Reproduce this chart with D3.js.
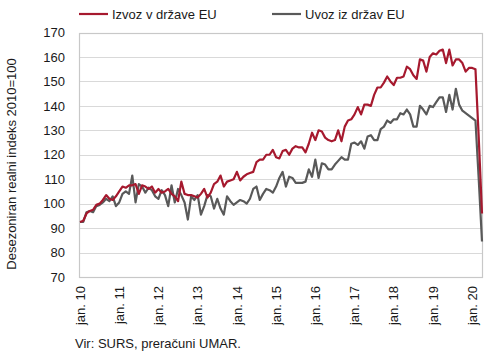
<!DOCTYPE html>
<html><head><meta charset="utf-8">
<script src="https://cdn.jsdelivr.net/npm/d3@7"></script>
<style>
body{margin:0;background:#fff;}
text{font-family:"Liberation Sans",Arial,sans-serif;fill:#1a1a1a;}
</style></head>
<body><svg id="c" width="490" height="355"></svg>
<script>
const seriesNames = ["Izvoz v države EU", "Uvoz iz držav EU"];
const startYear = 2010, startMonth = 0;
const izvoz = [92.5,93,96,97,97.5,99.5,100,101.5,103.5,102,101.5,103,
105,107,106.5,107.5,107.5,108,104,107.5,107,106,107,104.5,
106,104.5,105,106,104,103,101,109,104,103.5,103.5,103,
102.5,104,106,102.5,104.5,108,109,111.5,107,109,109.5,110,
113,109.5,111,112,112.5,113,117,118,118,120,120,122,
119,118.5,121.5,122,120,122.5,123.5,123,123,121,124.5,129,
126,130,129.5,127,126,125.5,126,130,125.5,131.5,134,134.5,
136.5,139.5,136.5,140.5,140.5,140,144.5,147.5,147.5,149.5,152,150,
148.5,151.5,151.5,152,156,155,152.5,151,159,158.5,154,160,
161.5,161,162.5,163,157.5,163,156.5,159,159,157.5,154,155.5,
155.5,155,127,96];
const uvoz = [92.5,92.5,96.5,97,96.5,99,99.5,100.5,102,101,103,99,
100.5,104,105,104,111.5,100.5,108,107,104.5,106.5,105.5,103,
102,105.5,103.5,99,107.5,100.5,106,103.5,100.5,93.5,103,101.5,
103.5,95.5,99,103.5,103,98,102,98,95.5,103,101,99.5,
100.5,101.5,101,100,102,106,107,101.5,104,106,105.5,104.5,
107,110.5,113,107,111,110.5,108.5,108.5,108.5,109,114,111,
118,110.5,116.5,116,114,114,116,117.5,119,118,118,124.5,
125,124,125.5,122.5,127.5,128,126,126,130.5,131.5,134,133,
134.5,134.5,137,136.5,138.5,136.5,131.5,131.5,140,138.5,136.5,140,
139.5,141.5,143.5,143.5,137.5,144.5,138.5,147,140.5,138,137,136,
135,134,110,84.5];
const yTicks = [70,80,90,100,110,120,130,140,150,160,170];
const xTickLabels = ["jan. 10","jan. 11","jan. 12","jan. 13","jan. 14","jan. 15","jan. 16","jan. 17","jan. 18","jan. 19","jan. 20"];
const colors = ["#a6192e","#595959"];

const svg = d3.select("#c");
const L = 80, R = 482, T = 32.5, B = 277;
const months = d3.range(izvoz.length);
const x = d3.scalePoint().domain(months).range([L, R]);
const y = d3.scaleLinear().domain([70,170]).range([B, T]);

// grid
svg.append("g").selectAll("line").data(yTicks).join("line")
  .attr("x1", L).attr("x2", R).attr("y1", d => Math.round(y(d))+0.5).attr("y2", d => Math.round(y(d))+0.5)
  .attr("stroke", "#d9d9d9").attr("stroke-width", 1);
// frame
svg.append("rect").attr("x", L-0.5).attr("y", Math.round(T)+0.5).attr("width", R-L+1).attr("height", Math.round(B)-Math.round(T))
  .attr("fill","none").attr("stroke","#c8c8c8").attr("stroke-width",1.2);

// y axis labels
const yAxis = d3.axisLeft(y).tickValues(yTicks).tickSize(0).tickPadding(15);
const ga = svg.append("g").attr("transform", `translate(${L},0)`).call(yAxis);
ga.select(".domain").remove();
ga.selectAll("text").style("font-size","13px").attr("fill","#1a1a1a").style("font-family","Liberation Sans, Arial, sans-serif");

// x labels
const janIdx = xTickLabels.map((d,i) => i*12);
const xAxis = d3.axisBottom(x).tickValues(janIdx).tickSize(0).tickFormat((d,i) => xTickLabels[i]);
const gx = svg.append("g").attr("transform", `translate(0,${B})`).call(xAxis);
gx.select(".domain").remove();
gx.selectAll("text").style("font-size","13px").attr("fill","#1a1a1a")
  .style("font-family","Liberation Sans, Arial, sans-serif")
  .attr("transform","rotate(-90)").attr("text-anchor","end")
  .attr("x", -9).attr("y", 0).attr("dy","0.32em").attr("dx", 0);

// lines
const line = d3.line().x((d,i) => x(i)).y(d => y(d));
[uvoz, izvoz].forEach((s, k) => {
  svg.append("path").datum(s).attr("d", line).attr("fill","none")
    .attr("stroke", k===0 ? colors[1] : colors[0]).attr("stroke-width", 2.2).attr("stroke-linejoin","round");
});

// legend
const leg = [{x:79, name: seriesNames[0], c: colors[0]}, {x:272, name: seriesNames[1], c: colors[1]}];
leg.forEach(l => {
  svg.append("line").attr("x1", l.x).attr("x2", l.x+29).attr("y1", 14).attr("y2", 14).attr("stroke", l.c).attr("stroke-width", 2.2);
  svg.append("text").attr("x", l.x+33).attr("y", 18.5).style("font-size","13px").text(l.name);
});

// y title
svg.append("text").attr("transform","translate(16,164) rotate(-90)").attr("text-anchor","middle")
  .style("font-size","13px").text("Desezoniran realni indeks 2010=100");

// source
svg.append("text").attr("x", 75).attr("y", 348).style("font-size","13px").text("Vir: SURS, preračuni UMAR.");
</script></body></html>
